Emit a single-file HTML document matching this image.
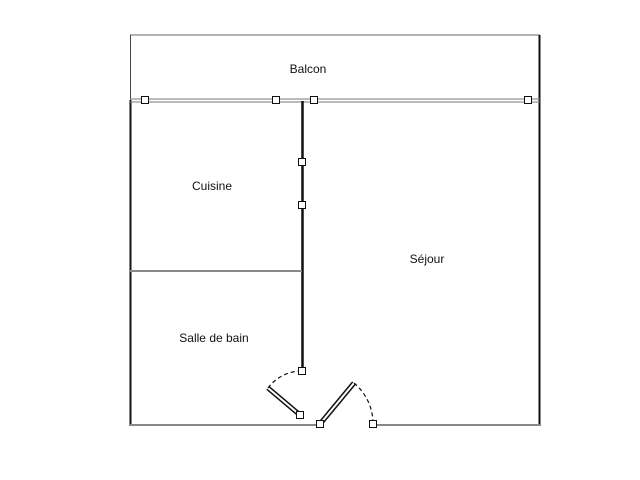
<!DOCTYPE html>
<html><head><meta charset="utf-8"><style>
html,body{margin:0;padding:0;background:#fff;width:640px;height:480px;overflow:hidden}
text{font-family:"Liberation Sans",sans-serif;font-size:12px;fill:#111}
</style></head><body>
<svg width="640" height="480" xmlns="http://www.w3.org/2000/svg">
<!-- outer top frame (thin grey) -->
<line x1="130" y1="35" x2="540" y2="35" stroke="#666" stroke-width="1"/>
<line x1="130.5" y1="35" x2="130.5" y2="100" stroke="#444" stroke-width="1"/>
<!-- walls -->
<line x1="130.5" y1="100" x2="130.5" y2="426" stroke="#111" stroke-width="2"/>
<line x1="539.5" y1="35" x2="539.5" y2="426" stroke="#111" stroke-width="2"/>
<!-- balcony rail (double line) -->
<line x1="130" y1="99" x2="540" y2="99" stroke="#777" stroke-width="1"/>
<line x1="130" y1="102" x2="540" y2="102" stroke="#777" stroke-width="1"/>
<!-- vertical wall -->
<line x1="302.5" y1="101" x2="302.5" y2="371" stroke="#111" stroke-width="2.5"/>
<!-- horizontal wall -->
<line x1="130" y1="271" x2="302" y2="271" stroke="#888" stroke-width="2"/>
<!-- bottom walls -->
<line x1="130" y1="425" x2="320" y2="425" stroke="#888" stroke-width="2"/>
<line x1="373" y1="425" x2="540" y2="425" stroke="#888" stroke-width="2"/>
<!-- door 1 -->
<line x1="300" y1="415" x2="268" y2="388" stroke="#111" stroke-width="5"/>
<line x1="300" y1="415" x2="268" y2="388" stroke="#fff" stroke-width="2"/>
<path d="M268 388 A42 42 0 0 1 302 371" fill="none" stroke="#111" stroke-width="1.2" stroke-dasharray="4,3"/>
<!-- door 2 -->
<line x1="320" y1="424" x2="354" y2="383" stroke="#111" stroke-width="5"/>
<line x1="320" y1="424" x2="354" y2="383" stroke="#fff" stroke-width="2"/>
<path d="M354 383 A53 53 0 0 1 373 424" fill="none" stroke="#111" stroke-width="1.2" stroke-dasharray="4,3"/>
<!-- handles -->
<g fill="#fff" stroke="#111" stroke-width="1">
<rect x="141.5" y="96.5" width="7" height="7"/>
<rect x="272.5" y="96.5" width="7" height="7"/>
<rect x="310.5" y="96.5" width="7" height="7"/>
<rect x="524.5" y="96.5" width="7" height="7"/>
<rect x="298.5" y="158.5" width="7" height="7"/>
<rect x="298.5" y="201.5" width="7" height="7"/>
<rect x="298.5" y="367.5" width="7" height="7"/>
<rect x="296.5" y="411.5" width="7" height="7"/>
<rect x="316.5" y="420.5" width="7" height="7"/>
<rect x="369.5" y="420.5" width="7" height="7"/>
</g>
<text x="308" y="73" text-anchor="middle">Balcon</text>
<text x="212" y="190" text-anchor="middle">Cuisine</text>
<text x="427" y="263" text-anchor="middle" fill="#444">Séjour</text>
<text x="214" y="342" text-anchor="middle">Salle de bain</text>
</svg>
</body></html>
